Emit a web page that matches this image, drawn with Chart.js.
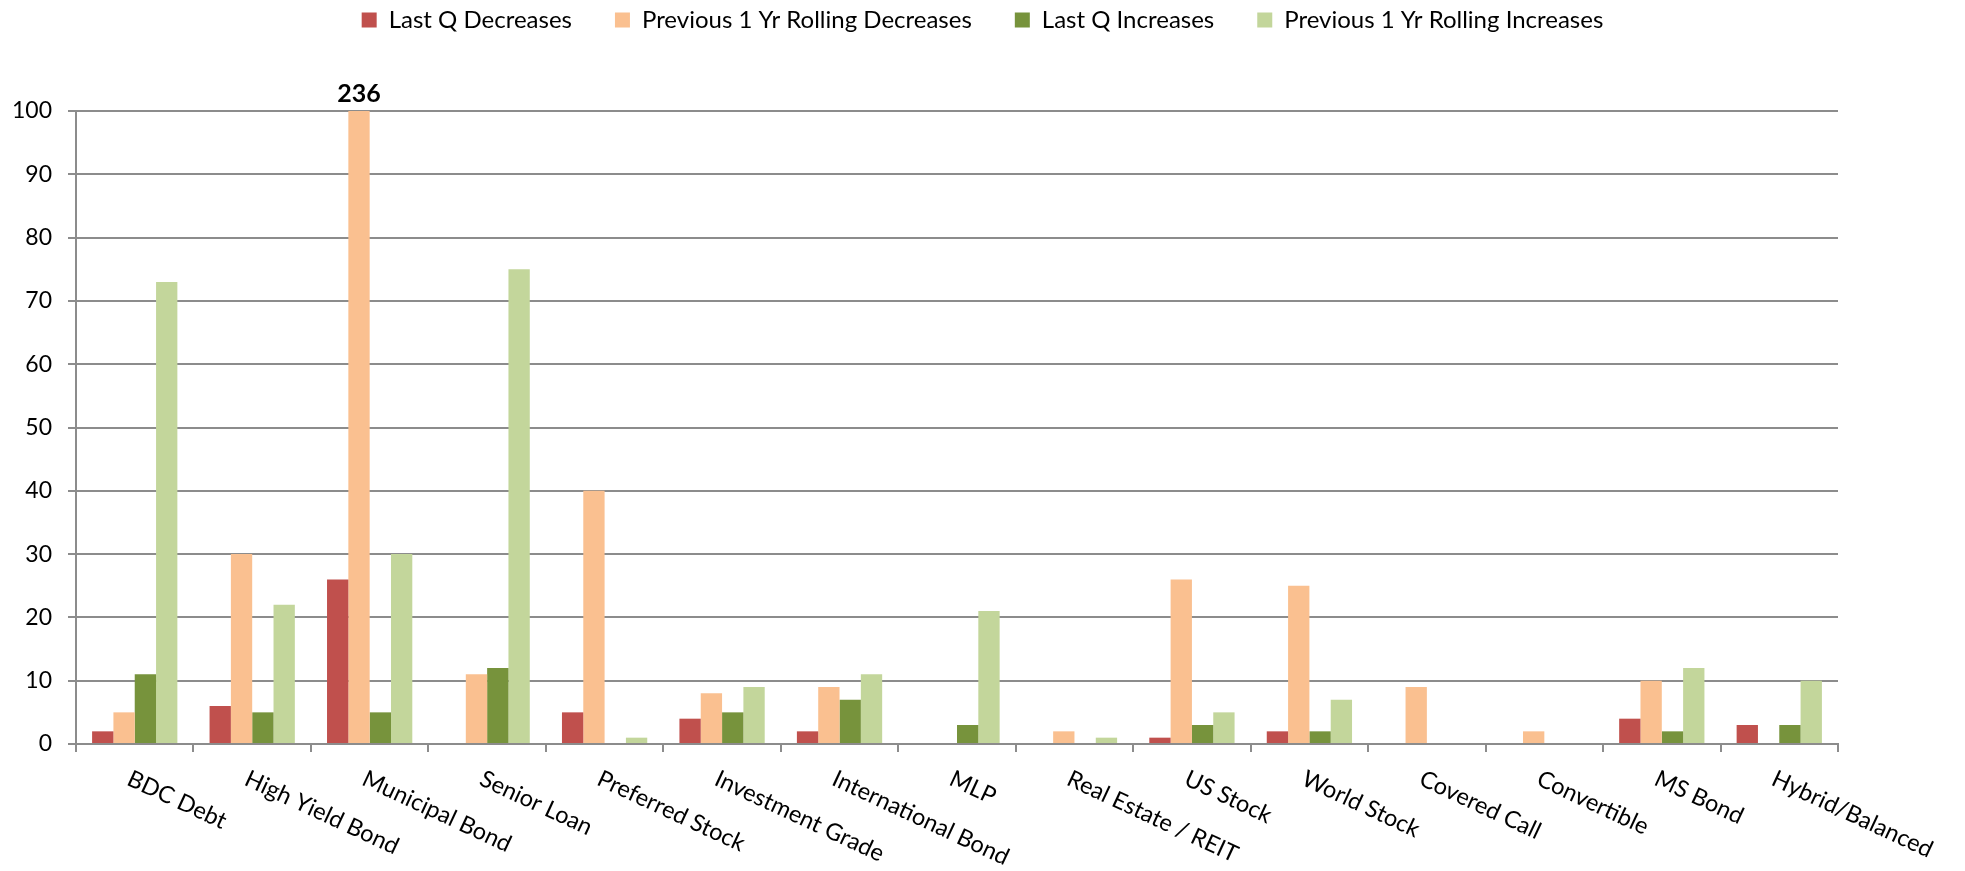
<!DOCTYPE html>
<html>
<head>
<meta charset="utf-8">
<title>Distribution changes by category</title>
<script src="https://cdn.jsdelivr.net/npm/chart.js@4/dist/chart.umd.min.js"></script>
<style>
    html, body { margin: 0; padding: 0; background: #ffffff; }
    #wrap { width: 1965px; height: 871px; position: relative; }
</style>
</head>
<body>
<div id="wrap"><canvas id="chart"></canvas></div>
<script>
// ============================================================================
// Data
// ============================================================================

const categories = [
    'BDC Debt', 'High Yield Bond', 'Municipal Bond', 'Senior Loan', 'Preferred Stock',
    'Investment Grade', 'International Bond', 'MLP', 'Real Estate / REIT', 'US Stock',
    'World Stock', 'Covered Call', 'Convertible', 'MS Bond', 'Hybrid/Balanced'
];

const lastQDecreases       = [2, 6, 26, 0, 5, 4, 2, 0, 0, 1, 2, 0, 0, 4, 3];
const rollingDecreases     = [5, 30, 236, 11, 40, 8, 9, 0, 2, 26, 25, 9, 2, 10, 0];
const lastQIncreases       = [11, 5, 5, 12, 0, 5, 7, 3, 0, 3, 2, 0, 0, 2, 3];
const rollingIncreases     = [73, 22, 30, 75, 1, 9, 11, 21, 1, 5, 7, 0, 0, 12, 10];

const seriesNames = [
    'Last Q Decreases',
    'Previous 1 Yr Rolling Decreases',
    'Last Q Increases',
    'Previous 1 Yr Rolling Increases'
];

const yTicks = [0, 10, 20, 30, 40, 50, 60, 70, 80, 90, 100];

// ============================================================================
// Styling
// ============================================================================

const FONT = 'Lato, "Liberation Sans", sans-serif';
const GRID = '#8c8c8c';
const colors = ['#C0504D', '#FAC090', '#77933C', '#C3D69B'];
const LABEL_ANGLE = 25;

// legend takes a fixed height so the plot starts where it should,
// then is moved up (its label padding also spaces the items apart)
// and re-centred on the whole canvas instead of the padded area
const legendPlacement = {
    id: 'legendPlacement',
    beforeInit(chart) {
        const fit = chart.legend.fit;
        chart.legend.fit = function() {
            fit.bind(chart.legend)();
            this.height = 111;
        };
    },
    afterLayout(chart) {
        const legend = chart.legend;
        const shift = (chart.width - legend.right - legend.left) / 2;
        legend.top -= 35;
        legend.bottom -= 35;
        legend.left += shift;
        legend.right += shift;
    }
};

// rotated category labels, starting at the tick and running down-right
const categoryLabels = {
    id: 'categoryLabels',
    afterDraw(chart) {
        const ctx = chart.ctx;
        const x = chart.scales.x;
        const size = 23.5;
        const cap = size * 0.72;
        const a = LABEL_ANGLE * Math.PI / 180;
        ctx.save();
        ctx.font = size + 'px ' + FONT;
        ctx.fillStyle = '#000000';
        ctx.textAlign = 'left';
        ctx.textBaseline = 'alphabetic';
        categories.forEach(function(label, i) {
            const px = x.getPixelForValue(i) - 2;
            const py = chart.chartArea.bottom + 25;
            ctx.save();
            ctx.translate(px - cap * Math.sin(a), py + cap * Math.cos(a));
            ctx.rotate(a);
            ctx.fillText(label, 0, 0);
            ctx.restore();
        });
        ctx.restore();
    }
};

// value label for bars that run past the axis maximum
const overflowLabels = {
    id: 'overflowLabels',
    afterDatasetsDraw(chart) {
        const ctx = chart.ctx;
        const yMax = chart.scales.y.max;
        ctx.save();
        ctx.font = 'bold 25px ' + FONT;
        ctx.fillStyle = '#000000';
        ctx.textAlign = 'center';
        ctx.textBaseline = 'bottom';
        chart.data.datasets.forEach(function(ds, d) {
            const meta = chart.getDatasetMeta(d);
            ds.data.forEach(function(v, i) {
                if (v > yMax) {
                    ctx.fillText(String(v), meta.data[i].x, chart.chartArea.top - 5);
                }
            });
        });
        ctx.restore();
    }
};

// ============================================================================
// Chart
// ============================================================================

const allSeries = [lastQDecreases, rollingDecreases, lastQIncreases, rollingIncreases];

const ctx = document.getElementById('chart').getContext('2d');
new Chart(ctx, {
    type: 'bar',
    data: {
        labels: categories,
        datasets: allSeries.map(function(values, i) {
            return {
                label: seriesNames[i],
                data: values,
                backgroundColor: colors[i],
                borderWidth: 0,
                categoryPercentage: 0.726,
                barPercentage: 1.0
            };
        })
    },
    options: {
        responsive: true,
        maintainAspectRatio: false,
        animation: false,
        layout: {
            padding: { top: 0, right: 127, bottom: 119, left: 0 }
        },
        plugins: {
            legend: {
                display: true,
                position: 'top',
                labels: {
                    font: { family: FONT, size: 24 },
                    color: '#000000',
                    boxWidth: 15,
                    boxHeight: 15,
                    padding: 43
                }
            },
            tooltip: { enabled: false }
        },
        scales: {
            x: {
                offset: true,
                grid: {
                    offset: true,
                    drawOnChartArea: false,
                    drawTicks: true,
                    tickLength: 8,
                    color: GRID,
                    lineWidth: 2
                },
                border: { color: GRID, width: 2 },
                ticks: { display: false }
            },
            y: {
                min: yTicks[0],
                max: yTicks[yTicks.length - 1],
                afterBuildTicks: function(scale) {
                    scale.ticks = yTicks.map(function(v) { return { value: v }; });
                },
                afterFit: function(scale) {
                    scale.width = 76;
                },
                grid: {
                    color: GRID,
                    lineWidth: 2,
                    drawTicks: true,
                    tickLength: 8
                },
                border: { color: GRID, width: 2 },
                ticks: {
                    font: { family: FONT, size: 23 },
                    color: '#000000',
                    padding: 16
                }
            }
        }
    },
    plugins: [legendPlacement, categoryLabels, overflowLabels]
});
</script>
</body>
</html>
